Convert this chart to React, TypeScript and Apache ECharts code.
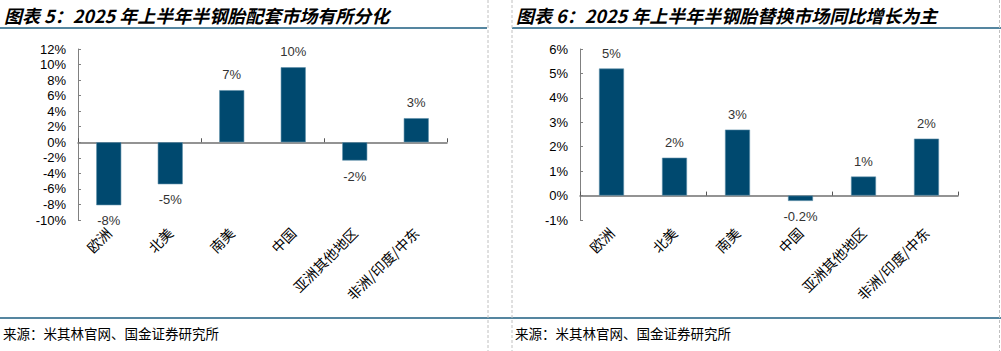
import React, { useEffect, useRef } from "react";
import * as echarts from "echarts";

const categories = ["欧洲", "北美", "南美", "中国", "亚洲其他地区", "非洲/印度/中东"];
const oeValues = [-8.1, -5.4, 6.7, 9.65, -2.35, 3.1];
const replValues = [5.2, 1.55, 2.7, -0.22, 0.78, 2.33];
const leftTicks = { min: -10, max: 12, interval: 2 };
const rightTicks = { min: -1, max: 6, interval: 1 };
const title1 = "图表 5：2025 年上半年半钢胎配套市场有所分化";
const title2 = "图表 6：2025 年上半年半钢胎替换市场同比增长为主";
const sourceText = "来源：米其林官网、国金证券研究所";

const BAR = "#00496F";
const BLUE_LINE = "#1C5E80";
const NUM_FONT = "'Liberation Sans', Arial, sans-serif";
const CJK_FONT = "'Noto Sans CJK SC', sans-serif";

function fmt(v: number) {
  if (Math.abs(v) < 0.5) return v.toFixed(1) + "%";
  return Math.round(v).toFixed(0) + "%";
}

function barData(vals: number[]) {
  return vals.map((v) => ({
    value: v,
    label: { position: v >= 0 ? "top" : "bottom" },
  }));
}

export default function App() {
  const ref = useRef<HTMLDivElement>(null);
  useEffect(() => {
    document.body.style.margin = "0";
    const chart = echarts.init(ref.current!, null, { renderer: "svg" });
    const yAxisBase = (gi: number, t: any) => ({
      type: "value",
      gridIndex: gi,
      min: t.min,
      max: t.max,
      interval: t.interval,
      axisLine: { show: true, lineStyle: { color: "#808080", width: 1 } },
      axisTick: { show: true, inside: true, length: 3, lineStyle: { color: "#808080" } },
      splitLine: { show: false },
      axisLabel: {
        formatter: "{value}%",
        color: "#000",
        fontFamily: NUM_FONT,
        fontSize: 13,
        margin: 12,
      },
    });
    const xZero = (gi: number) => ({
      type: "category",
      gridIndex: gi,
      data: categories,
      axisLine: { show: true, onZero: true, lineStyle: { color: "#707070", width: 1.5 } },
      axisTick: { show: true, inside: true, length: 4, lineStyle: { color: "#555" } },
      axisLabel: { show: false },
    });
    const xLabels = (gi: number) => ({
      type: "category",
      gridIndex: gi,
      position: "bottom",
      data: categories,
      axisLine: { show: false, onZero: false },
      axisTick: { show: false },
      axisLabel: {
        rotate: 45,
        interval: 0,
        color: "#000",
        fontFamily: CJK_FONT,
        fontSize: 14,
        margin: 10,
      },
    });
    const barSeries = (xi: number, yi: number, vals: number[]) => ({
      type: "bar",
      xAxisIndex: xi,
      yAxisIndex: yi,
      data: barData(vals),
      barWidth: 25,
      itemStyle: { color: BAR, borderColor: "#5E8FAA", borderWidth: 0.6 },
      label: {
        show: true,
        distance: 9,
        color: "#333",
        fontFamily: NUM_FONT,
        fontSize: 13,
        formatter: (p: any) => fmt(p.value),
      },
    });
    const titleStyle = (text: string) => ({
      text,
      fontFamily: CJK_FONT,
      fontSize: 18,
      fontWeight: "bold",
      fontStyle: "italic",
      fill: "#000",
      verticalAlign: "middle",
    });
    chart.setOption({
      animation: false,
      grid: [
        { left: 78, top: 49, width: 369, height: 171 },
        { left: 580, top: 49, width: 378, height: 171 },
      ],
      xAxis: [xZero(0), xLabels(0), xZero(1), xLabels(1)],
      yAxis: [yAxisBase(0, leftTicks), yAxisBase(1, rightTicks)],
      series: [barSeries(0, 0, oeValues), barSeries(2, 1, replValues)],
      graphic: [
        { type: "text", x: 4, y: 15, style: titleStyle(title1) },
        { type: "text", x: 516, y: 15, style: titleStyle(title2) },
        { type: "line", shape: { x1: 0, y1: 28, x2: 487, y2: 28 }, style: { stroke: BLUE_LINE, lineWidth: 1.5 } },
        { type: "line", shape: { x1: 512, y1: 28, x2: 1001, y2: 28 }, style: { stroke: BLUE_LINE, lineWidth: 1.5 } },
        { type: "line", shape: { x1: 0, y1: 318, x2: 1001, y2: 318 }, style: { stroke: BLUE_LINE, lineWidth: 1.5 } },
        { type: "line", shape: { x1: 488, y1: 0, x2: 488, y2: 351 }, style: { stroke: "#C0C0C0", lineWidth: 1, lineDash: [3, 2] } },
        { type: "line", shape: { x1: 512, y1: 0, x2: 512, y2: 351 }, style: { stroke: "#C0C0C0", lineWidth: 1, lineDash: [3, 2] } },
        { type: "line", shape: { x1: 999.5, y1: 0, x2: 999.5, y2: 351 }, style: { stroke: "#C0C0C0", lineWidth: 1, lineDash: [3, 2] } },
        {
          type: "text",
          x: 3,
          y: 333,
          style: { text: sourceText, fontFamily: CJK_FONT, fontSize: 13.5, fill: "#000", verticalAlign: "middle" },
        },
        {
          type: "text",
          x: 515,
          y: 333,
          style: { text: sourceText, fontFamily: CJK_FONT, fontSize: 13.5, fill: "#000", verticalAlign: "middle" },
        },
      ],
    });
    return () => chart.dispose();
  }, []);
  return <div ref={ref} style={{ width: 1001, height: 351 }} />;
}
